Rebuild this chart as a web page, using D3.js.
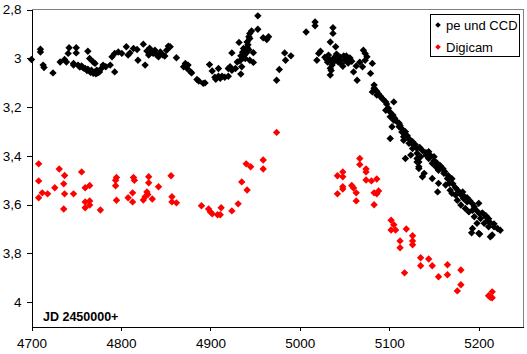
<!DOCTYPE html>
<html><head><meta charset="utf-8">
<script src="https://cdn.jsdelivr.net/npm/d3@7"></script>
<style>
html,body{margin:0;padding:0;background:#fff;}
svg{display:block;}
</style></head>
<body>
<script>
// Series "pe und CCD" : [JD-2450000, magnitude]
const peCCD = [
[4700,3.005],[4710,2.963],[4710,2.974],[4713,3.028],[4714,3.038],[4724,3.06],[4732,3.015],[4737,3.005],[4739,3.015],
[4742,2.957],[4741,2.98],[4750,2.957],[4750,2.978],[4747,3.021],[4747,3.028],
[4752,3.028],[4756,3.032],[4760,3.042],[4763,3.045],[4767,3.049],[4771,3.056],[4775,3.057],[4776,3.056],[4778,3.042],[4773,3.049],
[4754,3.036],[4758,3.04],[4762,3.05],[4766,3.058],[4769,3.062],[4772,3.064],[4774,3.06],
[4763,2.971],[4765,3.001],[4769,3.015],[4771,3.021],[4780,3.028],[4783,3.035],[4788,3.028],[4793,3.056],
[4790,2.994],[4793,2.98],[4797,2.974],[4801,2.98],[4806,2.953],[4808,2.987],[4810,2.978],[4814,2.96],[4818,2.964],[4819,3.008],
[4825,2.942],[4827,3.028],[4829,2.97],[4831,2.987],[4832,2.959],[4835,2.975],[4836,2.98],[4838,2.967],[4840,2.987],[4842,2.994],
[4844,2.974],[4847,2.987],[4849,2.991],[4851,2.967],[4853,2.95],[4855,2.953],[4862,2.998],
[4872,3.021],[4870,3.035],[4875,3.028],[4874,3.042],[4878,3.056],[4879,3.06],[4885,3.087],[4887,3.093],[4892,3.103],[4894,3.101],
[4899,3.026],[4902,3.052],[4905,3.078],[4909,3.074],[4911,3.082],[4913,3.074],[4916,3.078],[4920,3.074],[4906,3.086],
[4909,3.042],[4920,3.042],[4924,3.049],[4924,2.978],[4930,3.015],[4922,3.035],[4928,3.042],[4935,3.035],[4934,3.065],
[4932,2.935],[4937,2.96],[4936,2.975],[4938,2.987],[4939,2.967],[4940,2.979],[4941,2.955],[4939,3.001],[4941,2.933],
[4934,2.99],[4936,3.0],[4933,3.01],[4942,2.945],[4943,2.965],
[4943,2.912],[4944,2.898],[4946,2.888],[4944,2.919],[4948,2.977],[4948,3.017],[4944,3.008],[4953,2.826],[4953,2.881],
[4959,2.916],[4963,2.923],[4965,2.912],[4974,3.09],[4977,3.046],[4983,2.978],[4984,3.008],[4990,2.99],
[5007,2.892],[5017,2.851],[5017,2.867],[5019,3.008],[5023,2.971],[5037,2.875],[5037,2.898],[5034,2.933],[5040,2.953],[5021,2.98],
[5028,2.996],[5031,3.016],[5032,2.987],[5034,3.008],[5036,3.028],[5038,2.999],[5041,2.983],[5043,3.016],[5045,2.996],
[5048,3.033],[5050,3.008],[5052,2.991],[5054,3.02],[5056,2.999],[5034,3.069],[5034,3.041],
[5030,3.005],[5039,3.01],[5044,3.005],[5046,3.022],[5049,2.99],[5053,3.01],[5058,3.012],[5035,3.05],
[5071,2.967],[5073,2.98],[5075,2.994],[5073,3.008],[5081,3.021],[5064,3.09],[5060,3.056],[5070,3.035],[5079,3.062],[5063,3.032],[5067,3.016],
[5083,3.11],[5081,3.138],[5086,3.151],[5092,3.165],[5096,3.179],[5105,3.179],[5096,3.213],[5101,3.24],[5105,3.254],
[5103,3.281],[5111,3.281],[5114,3.302],[5101,3.329],[5116,3.336],[5122,3.349],[5127,3.356],[5131,3.37],[5124,3.397],
[5118,3.411],[5131,3.411],[5133,3.425],[5133,3.445],[5116,3.322],[5126,3.37],[5131,3.39],[5135,3.404],[5141,3.397],
[5144,3.411],[5150,3.404],[5148,3.431],[5152,3.445],[5155,3.459],[5131,3.425],[5133,3.452],[5139,3.472],[5137,3.486],
[5148,3.493],[5155,3.513],[5161,3.472],[5165,3.493],[5167,3.513],[5163,3.52],[5154,3.548],[5168,3.541],[5170,3.554],
[5174,3.561],[5182,3.548],[5176,3.582],[5183,3.575],[5187,3.589],[5180,3.602],[5185,3.616],[5189,3.63],[5193,3.623],
[5200,3.595],[5195,3.65],[5202,3.657],[5208,3.65],[5210,3.664],[5206,3.677],[5198,3.677],[5193,3.698],[5200,3.718],
[5211,3.691],[5217,3.691],[5221,3.698],[5224,3.705],[5215,3.725],[5213,3.732],[5192,3.716],[5201,3.721],
[5112,3.276],[5114,3.289],[5118,3.301],[5120,3.318],[5122,3.33],[5126,3.342],[5129,3.354],[5134,3.366],[5137,3.378],
[5141,3.387],[5144,3.383],[5146,3.399],[5150,3.42],[5153,3.428],[5157,3.441],[5160,3.453],[5162,3.465],[5166,3.482],
[5170,3.494],[5171,3.515],[5174,3.531],[5177,3.543],[5180,3.56],[5183,3.564],[5187,3.572],[5190,3.584],[5193,3.597],
[5195,3.609],[5198,3.626],[5201,3.638],[5204,3.634],[5208,3.646],[5211,3.658],[5213,3.675],[5217,3.679],
[5083,3.123],[5086,3.135],[5088,3.147],[5090,3.156],[5093,3.168],[5097,3.188],[5099,3.205],[5101,3.221],[5104,3.233],
[5106,3.246],[5108,3.258],[5111,3.266]
];
// Series "Digicam"
const digicam = [
[4708,3.433],[4708,3.503],[4708,3.572],[4712,3.552],[4718,3.556],[4726,3.531],[4731,3.454],[4737,3.481],[4736,3.515],
[4737,3.556],[4736,3.618],[4747,3.556],[4756,3.466],[4760,3.531],[4765,3.522],[4760,3.589],[4765,3.585],[4765,3.602],
[4760,3.613],[4777,3.622],[4795,3.489],[4794,3.5],[4794,3.523],[4795,3.582],[4814,3.489],[4815,3.5],[4813,3.552],
[4808,3.572],[4813,3.589],[4825,3.581],[4827,3.568],[4829,3.548],[4830,3.559],[4835,3.577],[4831,3.486],[4831,3.511],
[4842,3.527],[4856,3.482],[4857,3.568],[4857,3.589],[4862,3.593],[4890,3.605],[4898,3.618],[4900,3.63],[4902,3.638],
[4908,3.642],[4911,3.642],[4912,3.613],[4924,3.626],[4931,3.597],[4935,3.507],[4941,3.54],[4940,3.433],[4945,3.445],
[4959,3.417],[4959,3.454],[4974,3.304],
[5067,3.411],[5067,3.436],[5042,3.482],[5048,3.466],[5048,3.486],[5048,3.527],[5048,3.536],[5042,3.556],[5058,3.522],
[5060,3.532],[5063,3.552],[5063,3.585],[5074,3.454],[5074,3.466],[5074,3.499],[5080,3.503],[5086,3.495],[5083,3.552],
[5086,3.556],[5088,3.544],[5083,3.601],[5102,3.664],[5105,3.683],[5102,3.704],[5107,3.704],[5119,3.7],[5126,3.728],
[5112,3.749],[5126,3.749],[5126,3.765],[5112,3.777],[5117,3.88],[5135,3.818],[5144,3.823],[5135,3.851],[5148,3.851],
[5155,3.896],[5165,3.847],[5165,3.888],[5180,3.868],[5180,3.929],[5176,3.954],[5211,3.974],[5215,3.958],[5215,3.982],[5213,3.98]
];
const xTicks = [4700,4800,4900,5000,5100,5200];
const yTicks = [2.8,3.0,3.2,3.4,3.6,3.8,4.0];
const seriesNames = ["pe und CCD","Digicam"];
const seriesColors = ["#000000","#ff0000"];
const axisNote = "JD 2450000+";

const W = 527, H = 354;
const svg = d3.select("body").append("svg").attr("width",W).attr("height",H);
const x = d3.scaleLinear().domain([4700,5250]).range([31.5,523.5]);
const y = d3.scaleLinear().domain([2.8,4.1]).range([9.5,326.5]);
const tickFont = "'Liberation Sans Narrow','Arial Narrow','Liberation Sans',Arial,sans-serif";

// plot area border (top & right gray)
svg.append("path")
  .attr("d",`M${x(4700)},${y(2.8)}H${x(5250)}V${y(4.1)}`)
  .attr("fill","none").attr("stroke","#808080").attr("stroke-width",1)
  .attr("shape-rendering","crispEdges");

const fmt = d => String(+d.toFixed(1)).replace(".",",");

const gx = svg.append("g").attr("transform",`translate(0,${y(4.1)})`)
  .call(d3.axisBottom(x).tickValues(xTicks).tickSizeOuter(0).tickSizeInner(4).tickPadding(8).tickFormat(d3.format("d")));
const gy = svg.append("g").attr("transform",`translate(${x(4700)},0)`)
  .call(d3.axisLeft(y).tickValues(yTicks).tickSizeOuter(0).tickSizeInner(5).tickPadding(5).tickFormat(fmt));
[gx,gy].forEach(g=>{
  g.selectAll("path,line").attr("stroke","#000").attr("shape-rendering","crispEdges");
  g.selectAll("text").attr("font-family",tickFont).attr("font-size","13.5px").attr("fill","#000");
});

const diamond = r => `M0,${-r}L${r},0L0,${r}L${-r},0Z`;
const drawSeries = (data,color) => {
  svg.append("g").selectAll("path").data(data).join("path")
    .attr("d",diamond(3.7))
    .attr("transform",d=>`translate(${x(d[0])},${y(d[1])})`)
    .attr("fill",color);
};
drawSeries(peCCD,seriesColors[0]);
drawSeries(digicam,seriesColors[1]);

svg.append("text").attr("x",43).attr("y",321)
  .attr("font-family","'Liberation Sans',Arial,sans-serif").attr("font-weight","bold")
  .attr("font-size","12.5px").text(axisNote);

// legend
const lg = svg.append("g");
lg.append("rect").attr("x",430.5).attr("y",14.5).attr("width",89).attr("height",42)
  .attr("fill","#fff").attr("stroke","#000").attr("shape-rendering","crispEdges");
seriesNames.forEach((n,i)=>{
  const cy = 25 + i*22;
  lg.append("path").attr("d",diamond(2.8)).attr("transform",`translate(438,${cy})`).attr("fill",seriesColors[i]);
  lg.append("text").attr("x",446).attr("y",cy+4.5)
    .attr("font-family","'Liberation Sans',Arial,sans-serif").attr("font-size","13px").text(n);
});
</script>
</body></html>
